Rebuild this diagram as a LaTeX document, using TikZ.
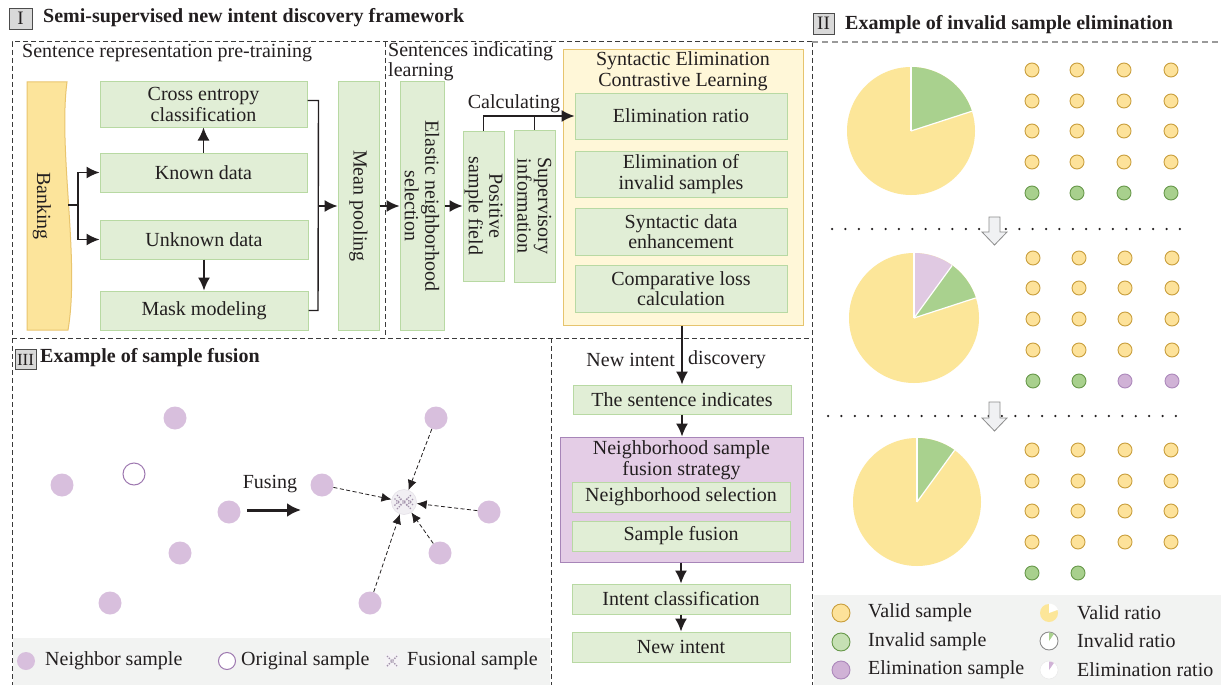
\documentclass[tikz,border=0pt]{standalone}
\usepackage{fontspec}
\setmainfont{Liberation Serif}
\usetikzlibrary{arrows.meta,calc}
\definecolor{gfill}{HTML}{E1EED6}
\definecolor{gdraw}{HTML}{B8D9A3}
\definecolor{yfill}{HTML}{FCE49B}
\definecolor{ydraw}{HTML}{E9C56E}
\definecolor{sfill}{HTML}{FFF7D8}
\definecolor{sdraw}{HTML}{E6C46E}
\definecolor{pfill}{HTML}{E4CDE6}
\definecolor{pdraw}{HTML}{A785B8}
\definecolor{ink}{HTML}{231F20}
\definecolor{piey}{HTML}{FCE699}
\definecolor{pieg}{HTML}{A9D18E}
\definecolor{piep}{HTML}{E0C9E2}
\definecolor{doty}{HTML}{FDE29A}
\definecolor{dotyb}{HTML}{C99E3C}
\definecolor{dotg}{HTML}{A8D08D}
\definecolor{dotgb}{HTML}{67984A}
\definecolor{lgg}{HTML}{C6E0B4}
\definecolor{dotp}{HTML}{D0B2D6}
\definecolor{dotpb}{HTML}{AC88BB}
\definecolor{nbr}{HTML}{D8BFDD}
\definecolor{hollowb}{HTML}{9E78B0}
\definecolor{band}{HTML}{F2F3F2}
\definecolor{dashc}{HTML}{3A3A3A}
\definecolor{dashg}{HTML}{9A9A9A}
\definecolor{fushatch}{HTML}{A393AC}
\definecolor{arrfill}{HTML}{F0F1F3}
\tikzset{
 txt/.style={font=\fontsize{20}{20.5}\selectfont, text=ink, inner sep=0pt, align=center},
 gbox/.style={txt, draw=gdraw, fill=gfill, line width=1pt},
 btitle/.style={font=\bfseries\fontsize{20}{22}\selectfont, text=ink, inner sep=0pt, anchor=west},
 numbox/.style={draw=black!70, fill=black!15, line width=0.9pt, inner sep=0pt, text=ink, font=\fontsize{19}{20}\selectfont},
 arr/.style={draw=ink, line width=1.4pt, -{Latex[length=13pt,width=12pt]}},
 ln/.style={draw=ink, line width=1.4pt},
 sect/.style={draw=dashc, line width=1pt, dash pattern=on 5pt off 3pt},
 gsect/.style={draw=dashg, line width=1.3pt, dash pattern=on 6pt off 4pt},
 nb/.style={circle, fill=nbr, minimum size=23pt, inner sep=0pt},
 darr/.style={draw=ink, line width=0.8pt, dash pattern=on 4pt off 2.5pt, -{Latex[length=10pt,width=9pt]}},
 ydot/.style={fill=doty, draw=dotyb, line width=0.9pt},
 gdot/.style={fill=dotg, draw=dotgb, line width=0.9pt},
 pdot/.style={fill=dotp, draw=dotpb, line width=0.9pt},
 hollowarrow/.style={draw=black!45, fill=arrfill, line width=0.8pt},
 dotline/.style={draw=ink, line width=2.5pt, line cap=round, dash pattern=on 0pt off 13.38pt}
}
\newcommand\wedgeslc[6]{\fill[#6] (#1,#2) -- ++(#4:#3pt) arc[start angle=#4, end angle=#5, radius=#3pt] -- cycle;}
\newcommand\wedgeln[4]{\draw[white, line width=1.2pt] (#1,#2) -- ++(#4:#3pt);}
\newcommand\fusmark[3]{%
 \draw[fushatch, line width=1.4pt, dash pattern=on 1.3pt off 1.3pt] ($(#1,#2)+(-#3pt,-#3pt)$) -- ($(#1,#2)+(#3pt,#3pt)$);
 \draw[fushatch, line width=1.4pt, dash pattern=on 1.3pt off 1.3pt] ($(#1,#2)+(-#3pt,#3pt)$) -- ($(#1,#2)+(#3pt,-#3pt)$);}
\begin{document}
\begin{tikzpicture}[x=1pt,y=-1pt]
\useasboundingbox (0,0) rectangle (1221,685);
\fill[white] (0,0) rectangle (1221,685);

% ---------- bands ----------
\fill[band] (814,595) rectangle (1221,685);
\fill[band] (13,638) rectangle (550,685);

% ---------- section frames ----------
\draw[sect] (812,42) -- (12,42) -- (12,685);
\draw[sect] (385,42) -- (385,338);
\draw[sect] (12,338) -- (812,338);
\draw[sect] (551,338) -- (551,685);
\draw[sect] (812,42) -- (812,685);
\draw[gsect] (812,42) -- (1221,42);

% ---------- titles ----------
\node[numbox, minimum width=23pt, minimum height=21pt] (n1) at (20.5,18.5) {I};
\node[btitle] (t1) at (43,17.5) {Semi-supervised new intent discovery framework};
\node[numbox, minimum width=21pt, minimum height=21pt] (n2) at (823.5,23.5) {II};
\node[btitle] (t2) at (845,25) {Example of invalid sample elimination};
\node[numbox, minimum width=21pt, minimum height=20pt, font=\fontsize{17}{18}\selectfont] (n3) at (25.5,359.5) {III};
\node[btitle] (t3) at (40,358) {Example of sample fusion};

% ---------- section I ----------
\node[txt, anchor=west] (lab1) at (22,53) {Sentence representation pre-training};
\node[txt, anchor=north west, align=left] (lab2) at (388,42) {Sentences indicating\\learning};

\filldraw[fill=yfill, draw=ydraw, line width=1pt] (27,82) -- (67,82) .. controls (58,150) and (80,260) .. (68,330) -- (27,330) -- cycle;
\node[txt, rotate=-90] (bank) at (42,206) {Banking};
\coordinate (bk) at (68,205);
\coordinate (bj) at (78,205);

\node[gbox, minimum width=207pt, minimum height=45pt] (ce) at (203.5,104.5) {Cross entropy\\classification};
\node[gbox, minimum width=207pt, minimum height=39pt] (kd) at (203.5,172.5) {Known data};
\node[gbox, minimum width=208pt, minimum height=39pt] (ud) at (204,239.5) {Unknown data};
\node[gbox, minimum width=208pt, minimum height=39pt] (mm) at (204,310.5) {Mask modeling};
\node[gbox, rotate=-90, minimum width=248pt, minimum height=41pt] (mp) at (358.5,206) {Mean pooling};
\node[gbox, rotate=-90, minimum width=248pt, minimum height=44pt] (en) at (422,206) {Elastic neighborhood\\selection};
\node[gbox, rotate=-90, minimum width=150pt, minimum height=41pt] (ps) at (483.5,206) {Positive\\sample field};
\node[gbox, rotate=-90, minimum width=152pt, minimum height=41pt] (si) at (534.5,206) {Supervisory\\information};

\node[draw=sdraw, fill=sfill, line width=1pt, minimum width=240pt, minimum height=275pt, inner sep=0pt] (secl) at (683,187.5) {};
\node[txt] (seclt) at (683,71) {Syntactic Elimination\\Contrastive Learning};
\node[gbox, minimum width=212pt, minimum height=46pt] (er) at (681,116) {Elimination ratio};
\node[gbox, minimum width=212pt, minimum height=46pt] (ei) at (681,174) {Elimination of\\invalid samples};
\node[gbox, minimum width=212pt, minimum height=47pt] (sd) at (681,231.5) {Syntactic data\\enhancement};
\node[gbox, minimum width=212pt, minimum height=47pt] (cl) at (681,288.5) {Comparative loss\\calculation};

\draw[ln] (bk) -- (bj);
\draw[arr] (bj) |- (kd.west);
\draw[arr] (bj) |- (ud.west);
\draw[arr] (kd.north) -- (ce.south);
\draw[arr] (ud.south) -- (mm.north);
\coordinate (mj) at (318,206);
\draw[ln] ([yshift=4pt]ce.east) -- ++(11,0) -- (318,310.5) -- (mm.east);
\draw[arr] (mj) -- (mp.south);
\draw[arr] (mp.north) -- (en.south);
\draw[arr] (en.north) -- (ps.south);
\draw[arr] (ps.west) |- (er.west);
\draw[ln] (si.west) -- (si.west |- er.west);
\node[txt] (calc) at (514,104) {Calculating};

% ---------- new intent discovery ----------
\node[gbox, minimum width=218pt, minimum height=29pt] (tsi) at (682,399.5) {The sentence indicates};
\node[draw=pdraw, fill=pfill, line width=1pt, minimum width=243pt, minimum height=125pt, inner sep=0pt] (nsf) at (681.5,499.5) {};
\node[txt] (nsft) at (681.5,460) {Neighborhood sample\\fusion strategy};
\node[gbox, minimum width=218pt, minimum height=30pt] (nsel) at (681,497) {Neighborhood selection};
\node[gbox, minimum width=218pt, minimum height=30pt] (sfu) at (681,536) {Sample fusion};
\node[gbox, minimum width=218pt, minimum height=30pt] (ic) at (681,599) {Intent classification};
\node[gbox, minimum width=218pt, minimum height=30pt] (ni) at (681,647) {New intent};

\draw[arr] (tsi.north |- secl.south) -- (tsi.north);
\node[txt, anchor=east] (nid1) at (675,360) {New intent};
\node[txt, anchor=west] (nid2) at (688,360) {discovery};
\draw[arr] (tsi.south) -- (tsi.south |- nsf.north);
\draw[arr] (ic.north |- nsf.south) -- (ic.north);
\draw[arr] (ic.south) -- (ni.north);

% ---------- section III: fusion ----------
\node[nb] (l1) at (175,418) {};
\node[nb] (l2) at (62,485) {};
\node[nb] (l3) at (229,512) {};
\node[nb] (l4) at (180,553) {};
\node[nb] (l5) at (110,603) {};
\node[circle, draw=hollowb, fill=white, line width=1pt, minimum size=22pt, inner sep=0pt] (lo) at (134,474) {};

\coordinate (fa) at (247,510);
\coordinate (fb) at (301,510);
\draw[draw=ink, line width=3pt, -{Latex[length=14pt,width=14pt]}] (fa) -- (fb);
\node[txt] (fus) at (270,484) {Fusing};

\node[nb] (r1) at (436,418) {};
\node[nb] (r2) at (322,485) {};
\node[nb] (r3) at (489,512) {};
\node[nb] (r4) at (440,553) {};
\node[nb] (r5) at (370,603) {};
\node[circle, fill=fushatch!15, draw=fushatch!30, line width=0.5pt, minimum size=25pt, inner sep=0pt] (fu) at (404,502) {};
\fusmark{404}{502}{7}
\fusmark{398}{502}{3.5}
\fusmark{410}{502}{3.5}
\draw[darr] (r1) -- (fu);
\draw[darr] (r2) -- (fu);
\draw[darr] (r3) -- (fu);
\draw[darr] (r4) -- (fu);
\draw[darr] (r5) -- (fu);

% legend III
\node[circle, fill=nbr, minimum size=18pt, inner sep=0pt] (lg1) at (26,661) {};
\node[txt, anchor=west] (lg1t) at (45,661) {Neighbor sample};
\node[circle, draw=hollowb, fill=white, line width=1pt, minimum size=17pt, inner sep=0pt] (lg2) at (227,661) {};
\node[txt, anchor=west] (lg2t) at (241,661) {Original sample};
\node[circle, fill=fushatch!12, minimum size=17pt, inner sep=0pt] (lg3) at (392,661) {};
\fusmark{392}{661}{5}
\node[txt, anchor=west] (lg3t) at (407,661) {Fusional sample};

% ---------- section II: pies ----------
\fill[piey] (911,131) circle[radius=64pt];
\wedgeslc{911}{131}{64}{18}{90}{pieg}
\wedgeln{911}{131}{64}{18} \wedgeln{911}{131}{64}{90}

\fill[piey] (914,318) circle[radius=65pt];
\wedgeslc{914}{318}{65}{18}{54}{pieg}
\wedgeslc{914}{318}{65}{54}{90}{piep}
\wedgeln{914}{318}{65}{18} \wedgeln{914}{318}{65}{54} \wedgeln{914}{318}{65}{90}

\fill[piey] (917,502) circle[radius=64pt];
\wedgeslc{917}{502}{64}{54}{90}{pieg}
\wedgeln{917}{502}{64}{54} \wedgeln{917}{502}{64}{90}

% dot grids
\foreach \x in {1032,1077,1124,1171} {
  \foreach \y in {70,101,131,162} { \draw[ydot] (\x,\y) circle[radius=7pt]; }
  \draw[gdot] (\x,193) circle[radius=7pt];
}
\foreach \x in {1033,1079,1125,1172} {
  \foreach \y in {258,288,319,350} { \draw[ydot] (\x,\y) circle[radius=7pt]; }
}
\draw[gdot] (1033,381) circle[radius=7pt];
\draw[gdot] (1079,381) circle[radius=7pt];
\draw[pdot] (1125,381) circle[radius=7pt];
\draw[pdot] (1172,381) circle[radius=7pt];
\foreach \x in {1032,1078,1125,1171} {
  \foreach \y in {450,481,511,542} { \draw[ydot] (\x,\y) circle[radius=7pt]; }
}
\draw[gdot] (1032,573) circle[radius=7pt];
\draw[gdot] (1078,573) circle[radius=7pt];

% dotted separators and hollow arrows
\draw[dotline] (832,229) -- (1180.5,229);
\draw[dotline] (828,416) -- (1176.5,416);
\draw[hollowarrow] (989,217) -- (1000,217) -- (1000,232) -- (1007,232) -- (994.5,245) -- (982,232) -- (989,232) -- cycle;
\draw[hollowarrow] (989,402) -- (1000,402) -- (1000,418) -- (1007,418) -- (994.5,431) -- (982,418) -- (989,418) -- cycle;

% legend II
\draw[fill=doty, draw=dotyb, line width=0.9pt] (841,613) circle[radius=9pt];
\draw[fill=lgg, draw=dotgb, line width=0.9pt] (841,642) circle[radius=9pt];
\draw[fill=dotp, draw=dotpb, line width=0.9pt] (841,670) circle[radius=9pt];
\node[txt, anchor=west] (v1) at (868,613) {Valid sample};
\node[txt, anchor=west] (v2) at (868,642) {Invalid sample};
\node[txt, anchor=west] (v3) at (868,670) {Elimination sample};

\fill[piey] (1049,613) circle[radius=9pt];
\wedgeslc{1049}{613}{9.5}{20}{90}{white}
\draw[fill=white, draw=black!45, line width=0.9pt] (1049,641) circle[radius=9pt];
\wedgeslc{1049}{641}{8.5}{55}{90}{pieg}
\draw[fill=white, draw=black!8, line width=0.6pt] (1049,670) circle[radius=9pt];
\wedgeslc{1049}{670}{8.5}{55}{90}{dotp}
\node[txt, anchor=west] (w1) at (1077,613) {Valid ratio};
\node[txt, anchor=west] (w2) at (1077,641) {Invalid ratio};
\node[txt, anchor=west] (w3) at (1077,670) {Elimination ratio};
\end{tikzpicture}
\end{document}
